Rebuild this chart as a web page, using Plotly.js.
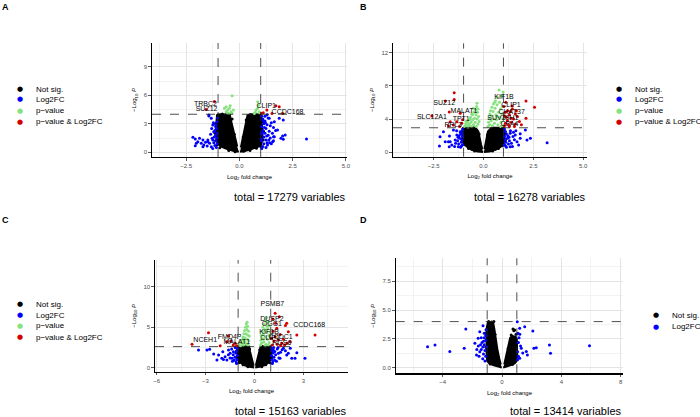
<!DOCTYPE html>
<html><head><meta charset="utf-8">
<script src="https://cdn.plot.ly/plotly-3.0.1.min.js"></script>
<style>html,body{margin:0;padding:0;background:#fff}#chart{width:700px;height:417px}</style>
</head><body><div id="chart"></div>
<script>
// ---------------- DATA ----------------
const categories = ["Not sig.", "Log2FC", "p\u2212value", "p\u2212value & Log2FC"];
const totals = [17279, 16278, 15163, 13414];
const panelLetters = ["A", "B", "C", "D"];
const pThresholds = [4.0, 2.95, 2.6, 4.0];
const fcCutoffs = [-1, 1];

// Panel A: dense "Not sig." cloud outlines (left / right lobes) and points
const aCloudLeft = [[-0.03,0.05],[-0.3,0.15],[-0.6,0.35],[-0.85,0.6],[-1.02,0.9],[-1.08,1.5],[-1.1,2.5],[-1.08,3.4],[-1.05,3.9],[-0.9,4.0],[-0.7,4.0],[-0.45,3.95],[-0.38,3.2],[-0.28,2.2],[-0.18,1.3],[-0.1,0.6]];
const aCloudRight = [[0.03,0.05],[0.3,0.15],[0.6,0.35],[0.85,0.55],[1.03,0.8],[1.08,1.5],[1.08,2.5],[1.05,3.4],[1.0,3.95],[0.8,4.0],[0.55,4.0],[0.38,3.9],[0.3,3.0],[0.2,2.0],[0.12,1.2],[0.07,0.5]];
const aNotSig = [[-1.0,3.95],[-0.6,4.0],[0.5,3.95],[0.95,3.9],[-1.05,0.75],[1.0,0.6],[-0.2,0.05],[0.2,0.1],[-1.12,3.0],[-1.14,2.0],[-1.12,1.2],[-0.92,0.48],[-0.5,0.18],[1.12,3.2],[1.13,2.2],[1.12,1.3],[0.8,0.42],[0.5,0.18],[-0.8,4.02],[0.7,4.02],[-0.34,3.5],[0.32,3.4],[-0.24,1.9],[0.18,1.6]];
const aLog2FC = [[-2.18,1.57],[-2.07,1.40],[-2.02,0.94],[-2.07,0.69],[-1.87,1.47],[-1.79,0.94],[-1.71,0.59],[-1.67,0.77],[-1.59,1.05],[-1.51,0.66],[-1.48,1.29],[-1.48,1.11],[-1.43,3.81],[-1.40,0.94],[-1.32,3.57],[-1.32,0.59],[-1.28,1.47],[-1.25,2.86],[-1.20,2.16],[-1.71,1.29],[-1.95,1.11],[-1.05,3.2],[-1.10,2.9],[-1.08,2.5],[-1.15,2.3],[-1.05,2.0],[-1.12,1.8],[-1.18,1.6],[-1.06,1.5],[-1.10,1.2],[-1.20,1.0],[-1.05,0.9],[-1.15,0.7],[-1.08,0.5],[-1.25,0.4],[-1.12,2.7],[-1.03,3.6],[-1.22,3.1],[-1.30,2.5],[-1.35,1.9],[-1.25,1.3],[-1.43,3.91],
 [1.40,3.57],[1.64,3.22],[1.87,3.57],[2.06,3.39],[2.15,1.82],[1.95,1.47],[1.79,2.34],[1.64,1.64],[1.56,1.11],[3.15,1.40],[1.32,0.77],[2.03,1.71],[2.06,1.36],[1.60,1.64],[1.05,3.8],[1.10,3.5],[1.20,3.3],[1.15,3.0],[1.30,2.9],[1.05,2.7],[1.25,2.5],[1.10,2.3],[1.40,2.2],[1.20,2.0],[1.05,1.9],[1.35,1.8],[1.15,1.6],[1.45,1.5],[1.25,1.3],[1.05,1.2],[1.30,1.0],[1.15,0.9],[1.50,0.9],[1.10,0.6],[1.25,0.5],[1.35,3.6],[1.50,3.1],[1.60,2.6],[1.45,2.8],[1.55,2.0],[1.70,2.3],[1.38,1.3],[1.60,1.2],[1.05,0.4],[1.20,3.8],[1.30,3.95],[1.08,2.1],[1.18,2.6],[1.12,3.3],[1.28,1.7],[1.42,1.0],[1.02,1.4],[1.22,3.1]];
const aPval = [[-0.34,5.94],[-0.62,4.79],[-0.55,4.44],[-0.47,4.62],[-0.39,4.26],[-0.62,4.26],[-0.5,4.09],[-0.43,4.89],[-0.7,4.62],[-0.34,4.1],[-0.28,4.44],[-0.58,4.15],[0.86,5.31],[0.9,4.96],[0.78,4.44],[0.93,4.26],[0.7,4.09],[0.85,4.6],[0.95,4.15],[0.75,4.2]];
const aBoth = [[-1.17,5.35],[-1.56,4.51],[1.71,4.89],[1.87,4.79],[1.29,4.44],[1.12,4.16],[1.05,4.1],[1.53,4.09],[2.03,4.09]];
const aGenes = [["TRBC2",-1.59,5.03],["SUZ12",-1.54,4.54],["CLIP1",1.26,4.86],["CCDC168",2.26,4.26]];

// Panel B
const bCloudLeft = [[-0.02,0.02],[-0.3,0.1],[-0.6,0.3],[-0.85,0.7],[-1.02,1.2],[-1.06,2.0],[-1.05,2.7],[-1.0,2.95],[-0.7,2.95],[-0.4,2.95],[-0.26,2.5],[-0.2,1.7],[-0.12,0.9],[-0.06,0.4]];
const bCloudRight = [[0.02,0.02],[0.3,0.1],[0.6,0.3],[0.85,0.65],[1.02,1.1],[1.06,2.0],[1.05,2.7],[1.0,2.95],[0.7,2.95],[0.4,2.95],[0.22,2.5],[0.16,1.7],[0.1,0.9],[0.05,0.4]];
const bNotSig = [[-1.0,2.9],[-0.5,2.93],[0.5,2.93],[0.98,2.9],[-0.95,0.9],[0.95,0.8],[-1.1,2.4],[-1.1,1.6],[-0.75,0.45],[1.1,2.3],[1.1,1.5],[0.75,0.45],[-0.22,2.2],[0.2,2.1],[-0.45,0.15],[0.45,0.15]];
const bLog2FC = [[-2.01,2.47],[-1.92,1.27],[-1.71,1.96],[-1.59,0.88],[-1.42,1.48],[-1.26,0.67],[-1.34,2.08],[-1.17,2.47],[-1.51,2.68],[-1.76,1.27],[-2.21,0.76],[-2.18,1.87],[-1.72,0.67],[-1.67,1.27],[-1.05,2.8],[-1.1,2.5],[-1.15,2.2],[-1.05,1.9],[-1.2,1.7],[-1.08,1.5],[-1.12,1.2],[-1.25,1.0],[-1.05,0.9],[-1.15,0.6],[-1.3,1.4],[-1.22,2.0],[-1.35,2.6],[-1.1,0.8],[-1.4,1.1],[-1.08,2.2],[-1.28,1.8],[-1.45,0.7],
 [1.34,2.28],[1.59,2.08],[1.68,1.27],[1.84,1.68],[2.10,2.68],[2.18,1.48],[1.76,0.88],[3.19,1.15],[1.34,0.67],[2.35,1.68],[1.84,2.24],[1.05,2.8],[1.1,2.5],[1.15,2.2],[1.05,1.9],[1.2,1.7],[1.08,1.5],[1.12,1.2],[1.25,1.0],[1.05,0.9],[1.15,0.6],[1.3,1.4],[1.22,2.0],[1.35,2.6],[1.1,0.8],[1.4,1.1],[1.48,1.9],[1.28,1.8],[1.45,0.7],[1.55,1.5],[1.62,2.6],[1.5,2.4]];
const bPval = [[-0.95,3.1],[-0.9,3.4],[-0.85,3.2],[-0.8,3.6],[-0.78,3.05],[-0.72,3.9],[-0.7,3.3],[-0.65,4.2],[-0.62,3.6],[-0.6,3.1],[-0.55,4.5],[-0.55,3.9],[-0.5,3.3],[-0.48,4.8],[-0.45,4.1],[-0.42,3.6],[-0.4,5.1],[-0.38,4.5],[-0.36,3.1],[-0.35,5.5],[-0.33,5.9],[-0.32,4.0],[-0.3,4.8],[-0.28,3.4],[-0.27,5.2],[-0.25,4.3],[-0.22,3.7],[-0.6,4.6],[-0.68,4.0],[-0.88,3.7],[-0.75,3.4],[-0.52,5.3],
 [0.22,3.1],[0.25,3.6],[0.28,4.1],[0.3,3.3],[0.32,4.6],[0.35,5.0],[0.38,3.8],[0.4,4.4],[0.42,5.4],[0.45,3.2],[0.48,4.9],[0.5,5.8],[0.52,4.0],[0.55,3.5],[0.58,5.3],[0.6,6.2],[0.62,4.5],[0.65,3.9],[0.68,5.7],[0.7,6.6],[0.72,3.3],[0.75,4.8],[0.78,7.48],[0.8,6.0],[0.82,4.2],[0.85,5.2],[0.88,3.6],[0.9,6.8],[0.92,4.6],[0.95,5.5],[0.98,3.2],[0.98,7.24],[0.97,4.0],[0.86,3.1],[0.66,4.3],[0.56,6.0]];
const bBoth = [[-1.92,6.16],[-1.47,6.36],[-1.47,7.16],[-1.72,4.84],[-1.17,4.68],[-2.59,4.36],[-1.67,3.67],[-1.51,3.28],[-1.76,3.16],[-1.34,3.67],[-1.09,3.48],[-1.2,3.1],[-1.05,3.9],
 [2.13,6.16],[2.56,5.40],[1.43,5.56],[2.13,4.08],[1.05,3.2],[1.1,3.5],[1.2,3.8],[1.15,4.2],[1.3,4.5],[1.25,3.3],[1.4,3.6],[1.5,4.0],[1.35,4.9],[1.6,3.4],[1.7,4.3],[1.45,5.2],[1.1,4.8],[1.55,3.1],[1.8,3.7],[1.2,5.0],[1.05,4.4],[1.65,5.0],[1.3,3.1],[1.9,3.3],[1.02,5.5],[1.12,6.0],[1.38,4.1],[1.6,4.6]];
const bGenes = [["SUZ12",-1.97,5.95],["MALAT1",-0.98,4.96],["SLC12A1",-2.59,4.27],["TPT1",-1.12,3.96],["RPL3",-1.52,3.28],["KIF1B",1.03,6.56],["CLIP1",1.38,5.64],["CHAT37",1.41,4.87],["SUV39H1",0.97,4.08],["CPA4",1.30,3.4]];

// Panel C
const cCloudLeft = [[-0.02,0.02],[-0.3,0.1],[-0.6,0.3],[-0.85,0.6],[-1.02,1.0],[-1.06,1.8],[-1.05,2.4],[-1.0,2.6],[-0.7,2.6],[-0.33,2.6],[-0.27,2.0],[-0.18,1.2],[-0.1,0.6],[-0.05,0.25]];
const cCloudRight = [[0.05,0.02],[0.3,0.1],[0.6,0.3],[0.85,0.6],[1.0,1.0],[1.04,1.8],[1.03,2.4],[0.98,2.6],[0.7,2.6],[0.38,2.6],[0.3,2.0],[0.22,1.2],[0.15,0.6],[0.08,0.25]];
const cNotSig = [[-1.0,2.55],[-0.5,2.58],[0.5,2.58],[0.95,2.55],[-0.95,0.6],[0.95,0.6],[-1.1,2.0],[-1.1,1.3],[-0.7,0.35],[1.08,2.1],[1.08,1.3],[0.7,0.35],[-0.3,2.3],[0.33,2.2],[-0.4,0.12],[0.45,0.12]];
const cLog2FC = [[-3.43,2.19],[-2.91,2.19],[-2.75,2.27],[-2.3,0.95],[-1.94,1.98],[-2.2,1.57],[-2.0,1.16],[-1.8,1.36],[-1.69,0.95],[-1.49,1.78],[-1.38,1.16],[-1.59,2.19],[-1.29,1.98],[-1.05,2.4],[-1.1,2.1],[-1.15,1.8],[-1.05,1.5],[-1.2,1.3],[-1.08,1.0],[-1.12,0.7],[-1.25,0.9],[-1.3,1.6],[-1.4,2.3],[-1.18,2.5],[-1.5,1.2],[-1.6,1.6],[-1.35,0.8],[-1.1,0.5],[-1.9,1.0],[-2.5,1.7],
 [1.16,2.19],[1.47,1.78],[1.78,2.4],[1.98,1.57],[2.29,1.16],[2.6,1.85],[1.57,1.16],[2.49,1.16],[3.1,1.16],[2.08,1.78],[1.05,2.4],[1.1,2.1],[1.15,1.8],[1.05,1.5],[1.2,1.3],[1.08,1.0],[1.12,0.7],[1.25,0.9],[1.3,1.6],[1.4,2.3],[1.18,2.5],[1.5,1.2],[1.6,1.9],[1.35,0.8],[1.1,0.5],[1.7,2.2],[1.45,2.5],[1.9,2.1],[2.2,2.4],[1.25,2.0]];
const cPval = [[-0.95,2.8],[-0.9,3.1],[-0.85,2.7],[-0.8,3.4],[-0.75,3.0],[-0.7,3.8],[-0.68,2.8],[-0.65,4.2],[-0.62,3.3],[-0.6,4.6],[-0.58,3.7],[-0.55,5.0],[-0.52,4.2],[-0.5,5.4],[-0.48,2.9],[-0.46,4.7],[-0.44,3.5],[-0.42,5.1],[-0.4,4.0],[-0.38,2.8],[-0.36,4.5],[-0.34,3.3],[-0.32,3.9],[-0.72,3.5],[-0.56,3.1],[-0.45,5.6],
 [0.38,2.8],[0.4,3.4],[0.42,4.0],[0.45,3.0],[0.48,4.5],[0.5,3.6],[0.52,5.0],[0.55,4.2],[0.58,3.2],[0.6,5.4],[0.62,4.7],[0.65,3.8],[0.68,5.8],[0.7,2.9],[0.72,4.4],[0.75,6.2],[0.78,5.1],[0.8,3.5],[0.82,4.8],[0.85,5.6],[0.88,4.0],[0.9,3.1],[0.92,5.2],[0.95,4.4],[0.97,3.7],[0.66,2.7],[0.85,2.8]];
const cBoth = [[-3.83,2.89],[-2.82,4.32],[-1.59,3.91],[-2.1,2.7],[-1.45,3.3],[-1.18,3.01],[-1.69,3.21],[-1.3,2.8],[-1.1,2.7],
 [1.27,6.71],[1.53,6.30],[1.98,5.48],[1.9,5.2],[1.37,4.86],[2.08,4.44],[2.60,4.04],[3.72,4.04],[1.27,3.83],[1.47,3.42],[1.78,3.50],[1.68,3.01],[1.2,3.3],[1.1,2.8],[2.0,3.0],[1.58,4.1],[1.15,4.5],[1.05,3.6],[1.4,2.9],[1.6,2.7],[1.85,2.8],[2.2,3.2],[1.3,5.5],[1.12,6.0]];
const cGenes = [["PSMB7",1.10,7.83],["DUSP2",1.07,5.97],["OGG1",1.07,5.36],["CCDC168",3.36,5.19],["KIF1B",0.9,4.32],["CLIP1",0.96,3.63],["CCDC1",1.61,3.7],["RGS6",1.68,3.01],["NCEH1",-3.02,3.42],["FMD4P",-1.52,3.75],["MALAT1",-1.08,3.13]];

// Panel D
const dCloudLeft = [[-0.02,0.03],[-0.3,0.12],[-0.6,0.25],[-0.85,0.4],[-1.0,0.6],[-1.05,1.5],[-1.06,2.5],[-1.04,3.4],[-0.95,3.95],[-0.75,3.95],[-0.6,3.9],[-0.52,3.4],[-0.42,2.4],[-0.3,1.5],[-0.18,0.8],[-0.08,0.3]];
const dCloudRight = [[0.08,0.03],[0.3,0.1],[0.6,0.25],[0.85,0.4],[0.98,0.6],[1.02,1.2],[1.02,2.0],[1.0,2.5],[0.9,2.7],[0.7,2.75],[0.55,2.6],[0.45,2.0],[0.35,1.3],[0.25,0.7],[0.15,0.3]];
const dNotSig = [[0.74,3.36],[0.85,3.28],[0.8,3.2],[-0.9,4.0],[-0.7,3.97],[-0.55,4.0],[0.95,2.9],[-1.1,3.0],[-1.1,1.8],[-0.8,0.35],[1.07,2.2],[1.07,1.0],[0.7,0.3],[-0.47,2.9],[0.42,1.7],[0.62,2.85]];
const dLog2FC = [[-5.02,1.84],[-4.52,1.98],[-3.52,1.41],[-2.55,1.70],[-2.44,3.36],[-1.83,2.13],[-1.72,1.12],[-1.5,3.13],[-1.28,3.65],[-1.61,2.56],[-1.1,1.0],[-1.15,1.5],[-1.2,2.0],[-1.1,2.4],[-1.3,1.8],[-1.25,1.2],[-1.4,1.6],[-1.35,2.2],[-1.1,2.8],[-1.2,3.0],[-1.5,1.4],[-1.45,2.0],[-1.05,1.8],[-1.6,1.9],[-1.3,0.8],[-1.15,0.6],[-1.7,1.6],[-1.4,2.6],[-1.08,3.3],[-1.2,2.6],[-1.55,1.0],[-1.25,2.3],
 [1.53,3.56],[1.03,3.99],[1.19,3.42],[2.08,3.19],[2.15,1.70],[2.31,1.75],[3.2,1.98],[3.27,1.26],[5.9,1.92],[1.64,1.41],[1.71,1.12],[1.3,1.70],[1.19,0.84],[1.1,2.2],[1.05,1.4],[1.15,2.6],[1.1,1.0],[1.25,1.9],[1.08,3.0],[1.4,1.3],[1.05,0.7],[1.2,2.9]];

// ---------------- DRAWING ----------------
const COL = {ns:"#000000", fc:"#0000ff", pv:"#86e27e", both:"#d40000"};
const FONT = "Liberation Sans, Arial, sans-serif";
const xs = a => a.map(p => p[0]);
const ys = a => a.map(p => p[1]);

const panels = [
  {ax:"", cl:aCloudLeft, cr:aCloudRight, ns:aNotSig, fc:aLog2FC, pv:aPval, both:aBoth, genes:aGenes},
  {ax:"2", cl:bCloudLeft, cr:bCloudRight, ns:bNotSig, fc:bLog2FC, pv:bPval, both:bBoth, genes:bGenes},
  {ax:"3", cl:cCloudLeft, cr:cCloudRight, ns:cNotSig, fc:cLog2FC, pv:cPval, both:cBoth, genes:cGenes},
  {ax:"4", cl:dCloudLeft, cr:dCloudRight, ns:dNotSig, fc:dLog2FC, pv:null, both:null, genes:null}
];

const traces = [];
panels.forEach(p => {
  const xa = "x" + p.ax, ya = "y" + p.ax;
  [p.cl, p.cr].forEach(c => traces.push({type:"scatter", mode:"lines", x:xs(c), y:ys(c), xaxis:xa, yaxis:ya,
    fill:"toself", fillcolor:COL.ns, line:{color:COL.ns, width:2}, showlegend:false, hoverinfo:"skip"}));
  const pts = (arr, color) => traces.push({type:"scatter", mode:"markers", x:xs(arr), y:ys(arr), xaxis:xa, yaxis:ya,
    marker:{color:color, size:3}, showlegend:false});
  pts(p.ns, COL.ns);
  pts(p.fc, COL.fc);
  if (p.pv) pts(p.pv, COL.pv);
  if (p.both) pts(p.both, COL.both);
  if (p.genes) traces.push({type:"scatter", mode:"text", x:p.genes.map(g=>g[1]), y:p.genes.map(g=>g[2]),
    text:p.genes.map(g=>g[0]), textposition:"middle center", xaxis:xa, yaxis:ya,
    textfont:{family:FONT, size:7, color:"#000"}, showlegend:false, cliponaxis:false});
});

const GRID = "#e4e4e4";
function axis(domain, range, dtick, anchor, extra) {
  return Object.assign({
    domain:domain, range:range, dtick:dtick, tick0:0, anchor:anchor,
    showgrid:true, gridcolor:GRID, gridwidth:1, zeroline:false,
    showline:true, linecolor:"#000", linewidth:1.2, mirror:false,
    ticks:"outside", ticklen:2.5, tickwidth:0.8, tickcolor:"#333",
    tickfont:{family:FONT, size:6, color:"#4d4d4d"},
    minor:{dtick:dtick/2, tick0:0, showgrid:true, gridcolor:"#eeeeee", gridwidth:0.7, ticks:""},
    fixedrange:true
  }, extra || {});
}
const xTitle = {text:"Log<sub>2</sub> fold change", font:{family:FONT, size:6, color:"#000"}, standoff:6};
const yTitle = {text:"\u2212Log<sub>10</sub> <i>P</i>", font:{family:FONT, size:6, color:"#000"}, standoff:6};

const W = 700, H = 417;
const px = v => v / W, py = v => 1 - v / H;

const layout = {
  width:W, height:H, margin:{l:0, r:0, t:0, b:0}, paper_bgcolor:"#fff", plot_bgcolor:"#fff",
  showlegend:false, font:{family:FONT},
  xaxis:  axis([px(152), px(347)], [-4.1, 5.05], 2.5, "y",  {tickformat:".1f", title:xTitle}),
  yaxis:  axis([py(157), py(43)], [-0.5, 11.5], 3, "x",    {title:yTitle}),
  xaxis2: axis([px(393), px(587)], [-4.54, 5.19], 2.5, "y2", {tickformat:".1f", title:xTitle}),
  yaxis2: axis([py(156.7), py(43.3)], [-0.53, 13.1], 4, "x2", {title:yTitle}),
  xaxis3: axis([px(155), px(348)], [-6.1, 5.74], 3, "y3",  {title:xTitle}),
  yaxis3: axis([py(371.7), py(260)], [-0.5, 13.3], 5, "x3", {title:yTitle}),
  xaxis4: axis([px(395.7), px(623.3)], [-7.17, 8.18], 4, "y4", {title:xTitle}),
  yaxis4: axis([py(373.3), py(258.3)], [-0.46, 9.46], 2.5, "x4", {tickformat:".1f", title:yTitle}),
  shapes:[], annotations:[]
};

// cutoff lines
["", "2", "3", "4"].forEach((s, i) => {
  fcCutoffs.forEach(fc => layout.shapes.push({type:"line", xref:"x"+s, yref:"y"+s+" domain", x0:fc, x1:fc, y0:0, y1:1,
    line:{color:"#222", width:0.8, dash:"dash"}, layer:"above"}));
  layout.shapes.push({type:"line", xref:"x"+s+" domain", yref:"y"+s, x0:0, x1:1, y0:pThresholds[i], y1:pThresholds[i],
    line:{color:"#222", width:0.8, dash:"dash"}, layer:"above"});
});

// panel letters
[[5, 7], [363, 7], [5, 220], [363, 220]].forEach((pos, i) => layout.annotations.push({
  xref:"paper", yref:"paper", x:px(pos[0]), y:py(pos[1]), xanchor:"center", yanchor:"middle",
  text:"<b>" + panelLetters[i] + "</b>", showarrow:false, font:{family:FONT, size:9, color:"#000"}}));

// totals
[[347, 197], [587, 197], [348, 411], [623, 411]].forEach((pos, i) => layout.annotations.push({
  xref:"paper", yref:"paper", x:px(pos[0]), y:py(pos[1]), xanchor:"right", yanchor:"middle",
  text:"total = " + totals[i] + " variables", showarrow:false, font:{family:FONT, size:11, color:"#000"}}));

// legends (drawn as text entries)
const legendCols = [COL.ns, COL.fc, COL.pv, COL.both];
function legend(mx, tx, ys0, n) {
  for (let k = 0; k < n; k++) {
    layout.annotations.push({xref:"paper", yref:"paper", x:px(mx), y:py(ys0[k]), xanchor:"center", yanchor:"middle",
      text:"\u25CF", showarrow:false, font:{family:"DejaVu Sans", size:7, color:legendCols[k]}});
    layout.annotations.push({xref:"paper", yref:"paper", x:px(tx), y:py(ys0[k]), xanchor:"left", yanchor:"middle",
      text:categories[k], showarrow:false, font:{family:FONT, size:8, color:"#000"}});
  }
}
legend(20, 34, [89.3, 99.3, 110.7, 122], 4);
legend(619.3, 633, [89.3, 99.3, 110.7, 122], 4);
legend(20, 34, [304, 315, 325.7, 337.3], 4);
legend(656, 670, [315, 326.7], 2);

Plotly.newPlot("chart", traces, layout, {staticPlot:true, displayModeBar:false});
</script></body></html>
